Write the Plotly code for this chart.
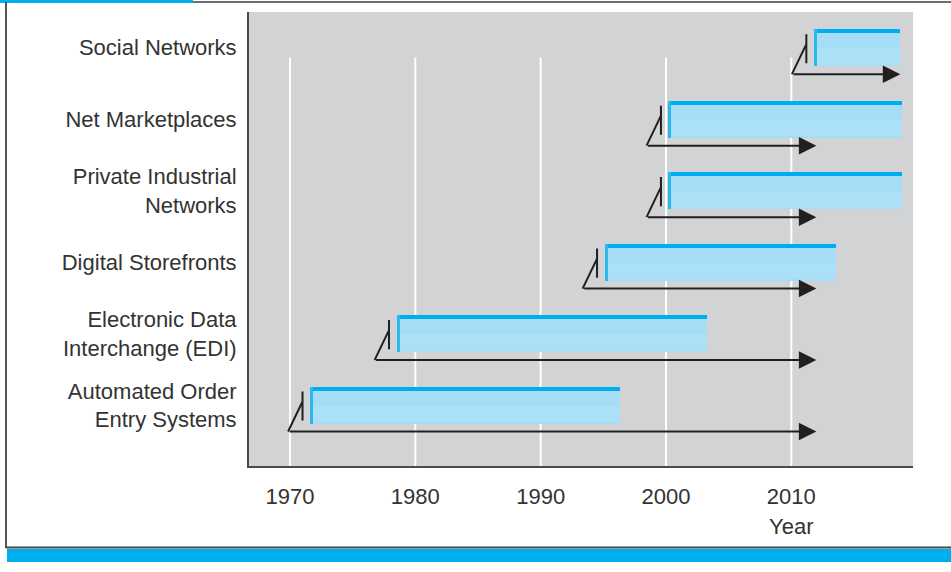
import plotly.graph_objects as go

# ---- data ----
systems = [
    "Automated Order<br>Entry Systems",
    "Electronic Data<br>Interchange (EDI)",
    "Digital Storefronts",
    "Private Industrial<br>Networks",
    "Net Marketplaces",
    "Social Networks",
]
start_year = [1971.6, 1978.5, 1995.1, 2000.2, 2000.2, 2011.8]
end_year = [1996.3, 2003.3, 2013.6, 2018.8, 2018.8, 2018.7]
arrow_end_year = [2012.0, 2012.0, 2012.0, 2012.0, 2012.0, 2018.7]
decades = [1970, 1980, 1990, 2000, 2010]
tick_labels = [str(d) for d in decades]

# ---- styles ----
FONT = "Liberation Sans, Arial, sans-serif"
TXT = "#333333"
CYAN = "#00aeef"
FILL = "#a6ddf6"
DARK = "#231f20"
BAR_W = 0.518
EDGE_T = 0.056
ARROW_DY = 0.37

rows = list(range(len(systems)))
dur = [e - s for s, e in zip(start_year, end_year)]

fig = go.Figure()
# main bar body
fig.add_trace(go.Bar(orientation="h", y=rows, x=dur, base=start_year, width=BAR_W,
                     marker=dict(color=FILL, line=dict(width=0)), hoverinfo="skip"))
# lighter lower part (soft gradient feel)
fig.add_trace(go.Bar(orientation="h", y=rows, x=dur, base=start_year, width=BAR_W * 0.45,
                     offset=-BAR_W / 2 + 0.02,
                     marker=dict(color="#abe0f7", line=dict(width=0)), hoverinfo="skip"))
# top cyan edge
fig.add_trace(go.Bar(orientation="h", y=rows, x=dur, base=start_year, width=EDGE_T,
                     offset=BAR_W / 2 - EDGE_T,
                     marker=dict(color=CYAN, line=dict(width=0)), hoverinfo="skip"))
# left cyan edge
fig.add_trace(go.Bar(orientation="h", y=rows, x=[0.24] * len(rows), base=start_year, width=BAR_W,
                     marker=dict(color="#2cb8ec", line=dict(width=0)), hoverinfo="skip"))

shapes = []
# vertical grid lines (start a little below the top of the plot)
for d in decades:
    shapes.append(dict(type="line", xref="x", yref="paper", x0=d, x1=d, y0=0, y1=0.90,
                       line=dict(color="white", width=2), layer="below"))

# bracket marks and arrows
annotations = []
for r, s, ae in zip(rows, start_year, arrow_end_year):
    cx = s - 1.75
    vx = s - 0.6
    ya = r - ARROW_DY
    path = (f"M {cx},{ya} L {vx},{r + 0.05} "
            f"M {vx},{r + 0.19} L {vx},{r - 0.217}")
    shapes.append(dict(type="path", xref="x", yref="y", path=path,
                       line=dict(color=DARK, width=2)))
    annotations.append(dict(x=ae, y=ya, ax=cx, ay=ya, xref="x", yref="y",
                            axref="x", ayref="y", text="", showarrow=True,
                            arrowhead=2, arrowsize=1.75, arrowwidth=2,
                            arrowcolor=DARK, standoff=0, startstandoff=0))

# page decorations (frame and bands), paper coords relative to plot area
def px_x(p):
    return (p - 249) / 664.0

def px_y(p):
    return (466 - p) / 454.0

shapes += [
    dict(type="rect", xref="paper", yref="paper", x0=px_x(0), x1=px_x(193),
         y0=px_y(3), y1=px_y(0), fillcolor=CYAN, line=dict(width=0)),
    dict(type="line", xref="paper", yref="paper", x0=px_x(193), x1=px_x(951),
         y0=px_y(2), y1=px_y(2), line=dict(color="#6d6e71", width=2)),
    dict(type="line", xref="paper", yref="paper", x0=px_x(6), x1=px_x(6),
         y0=px_y(2), y1=px_y(548), line=dict(color="#555555", width=2)),
    dict(type="line", xref="paper", yref="paper", x0=px_x(6), x1=px_x(951),
         y0=px_y(547.5), y1=px_y(547.5), line=dict(color="#444444", width=2)),
    dict(type="rect", xref="paper", yref="paper", x0=px_x(7), x1=px_x(951),
         y0=px_y(562), y1=px_y(549), fillcolor=CYAN, line=dict(width=0)),
]

annotations.append(dict(x=decades[-1], y=px_y(526), xref="x", yref="paper",
                        text="Year", showarrow=False, yanchor="middle",
                        font=dict(family=FONT, size=22, color=TXT)))

fig.update_layout(
    width=951, height=572, autosize=False,
    margin=dict(l=249, r=38, t=12, b=106),
    paper_bgcolor="white", plot_bgcolor="#d1d3d4",
    barmode="overlay", showlegend=False, bargap=0,
    font=dict(family=FONT, size=22, color=TXT),
    shapes=shapes, annotations=annotations,
    xaxis=dict(range=[1966.73, 2019.71], tickvals=decades, ticktext=tick_labels,
               showgrid=False, zeroline=False, showline=True, linecolor="#4a4a4a",
               linewidth=2, ticks="", ticklabelstandoff=10,
               tickfont=dict(family=FONT, size=22, color=TXT), fixedrange=True),
    yaxis=dict(range=[-0.852, 5.5], tickvals=rows, ticktext=systems,
               showgrid=False, zeroline=False, showline=True, linecolor="#4a4a4a",
               linewidth=2, ticks="", ticklabelstandoff=6,
               tickfont=dict(family=FONT, size=22, color=TXT), fixedrange=True),
)

fig.write_html(
    "out.html",
    config={"displayModeBar": False},
    post_script="document.body.style.margin='0';document.body.style.padding='0';",
)
